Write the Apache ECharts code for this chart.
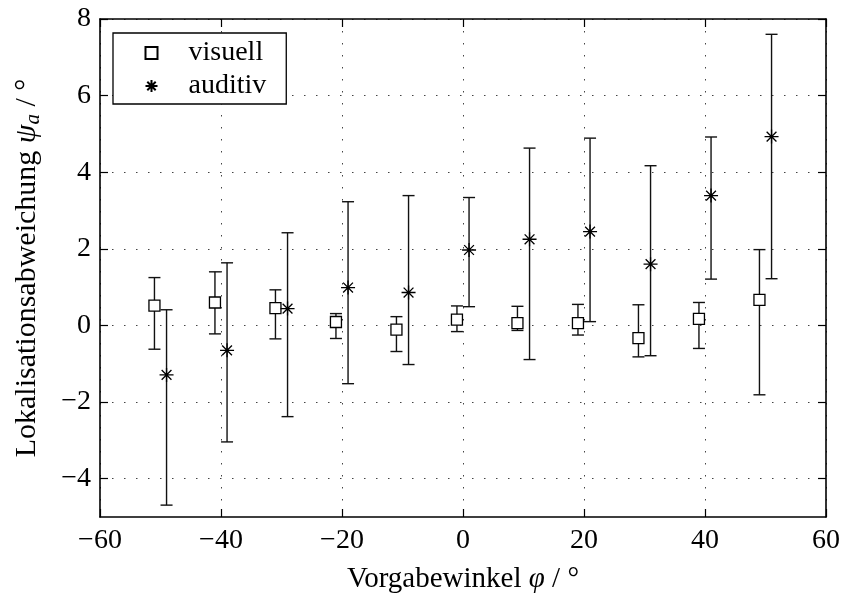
<!DOCTYPE html>
<html>
<head>
<meta charset="utf-8">
<script src="https://cdn.jsdelivr.net/npm/echarts@6/dist/echarts.min.js"></script>
<style>
html,body{margin:0;padding:0;background:#fff;}
#chart{width:843px;height:599px;}
</style>
</head>
<body>
<div id="chart"></div>
<script>
// Data
var visuellX    = [-51, -41, -31, -21, -11, -1, 9, 19, 29, 39, 49];
var visuellMean = [0.52, 0.60, 0.45, 0.09, -0.11, 0.15, 0.06, 0.06, -0.33, 0.17, 0.67];
var visuellLow  = [-0.62, -0.22, -0.35, -0.34, -0.68, -0.16, -0.13, -0.25, -0.82, -0.60, -1.81];
var visuellHigh = [1.25, 1.40, 0.93, 0.31, 0.23, 0.51, 0.50, 0.55, 0.54, 0.60, 1.98];

var auditivX    = [-49, -39, -29, -19, -9, 1, 11, 21, 31, 41, 51];
var auditivMean = [-1.29, -0.65, 0.44, 0.99, 0.86, 1.97, 2.25, 2.45, 1.60, 3.39, 4.93];
var auditivLow  = [-4.69, -3.04, -2.38, -1.52, -1.02, 0.49, -0.89, 0.10, -0.79, 1.21, 1.22];
var auditivHigh = [0.41, 1.635, 2.42, 3.23, 3.39, 3.34, 4.63, 4.89, 4.17, 4.92, 7.60];

var xTicks = [-60, -40, -20, 0, 20, 40, 60];
var yTicks = [-4, -2, 0, 2, 4, 6, 8];

var FONT = '"Liberation Serif", "DejaVu Serif", serif';
var BLACK = '#000';
var STAR = 'path://M0 5H10M5 0V10M1.5 1.5L8.5 8.5M8.5 1.5L1.5 8.5';
var SQUARE = 'path://M0 0H10V10H0Z';

function pairs(xs, ys) { return xs.map(function (x, i) { return [x, ys[i]]; }); }
function bars(xs, lo, hi) { return xs.map(function (x, i) { return [x, lo[i], hi[i]]; }); }
function fmt(v) { return String(v).replace('-', '\u2212'); }

function errorRender(params, api) {
  var x = api.value(0);
  var lo = api.coord([x, api.value(1)]);
  var hi = api.coord([x, api.value(2)]);
  var hw = 6;
  var st = { stroke: '#111', lineWidth: 1.4 };
  return {
    type: 'group',
    children: [
      { type: 'line', shape: { x1: lo[0], y1: lo[1], x2: hi[0], y2: hi[1] }, style: st },
      { type: 'line', shape: { x1: lo[0] - hw, y1: lo[1], x2: lo[0] + hw, y2: lo[1] }, style: st },
      { type: 'line', shape: { x1: hi[0] - hw, y1: hi[1], x2: hi[0] + hw, y2: hi[1] }, style: st }
    ]
  };
}

var splitStyle = { color: '#444', width: 1, type: [1.5, 10.5] };

var chart = echarts.init(document.getElementById('chart'), null, { renderer: 'canvas' });
chart.setOption({
  backgroundColor: '#fff',
  animation: false,
  grid: { left: 100, right: 15, top: 19, bottom: 81, containLabel: false },
  legend: {
    orient: 'vertical',
    left: 113, top: 33,
    padding: [6, 20, 4, 30],
    itemGap: 5,
    itemWidth: 64, itemHeight: 12,
    symbolKeepAspect: true,
    backgroundColor: '#fff',
    borderColor: BLACK, borderWidth: 1.3, borderRadius: 0,
    textStyle: { fontFamily: FONT, fontSize: 28, color: BLACK },
    data: ['visuell', 'auditiv']
  },
  xAxis: [{
    type: 'value', min: -60, max: 60, interval: 20,
    name: 'Vorgabewinkel {i|\u03c6} / \u00b0',
    nameLocation: 'middle', nameGap: 48,
    nameTextStyle: {
      fontFamily: FONT, fontSize: 29, color: BLACK,
      rich: { i: { fontFamily: FONT, fontSize: 29, fontStyle: 'italic', color: BLACK } }
    },
    axisLine: { show: true, onZero: false, lineStyle: { color: BLACK, width: 1.6 } },
    axisTick: { show: true, inside: true, length: 8, lineStyle: { color: BLACK, width: 1.2 } },
    axisLabel: { fontFamily: FONT, fontSize: 28, color: BLACK, margin: 10, formatter: fmt },
    splitLine: { show: true, lineStyle: splitStyle }
  }, {
    type: 'value', min: -60, max: 60, interval: 20, position: 'top',
    axisLine: { show: true, onZero: false, lineStyle: { color: BLACK, width: 1.6 } },
    axisTick: { show: true, inside: true, length: 8, lineStyle: { color: BLACK, width: 1.2 } },
    axisLabel: { show: false },
    splitLine: { show: false }
  }],
  yAxis: [{
    type: 'value', min: -5, max: 8,
    name: 'Lokalisationsabweichung {i|\u03c8}{s|a} / \u00b0',
    nameLocation: 'middle', nameGap: 56, nameRotate: 90,
    nameTextStyle: {
      fontFamily: FONT, fontSize: 30, color: BLACK,
      rich: {
        i: { fontFamily: FONT, fontSize: 30, fontStyle: 'italic', color: BLACK },
        s: { fontFamily: FONT, fontSize: 21, fontStyle: 'italic', color: BLACK, verticalAlign: 'bottom', padding: [12, 0, 0, 0] }
      }
    },
    axisLine: { show: true, onZero: false, lineStyle: { color: BLACK, width: 1.6 } },
    axisTick: { show: true, inside: true, length: 8, customValues: yTicks, lineStyle: { color: BLACK, width: 1.2 } },
    axisLabel: { fontFamily: FONT, fontSize: 28, color: BLACK, margin: 9, customValues: yTicks, formatter: fmt },
    splitLine: { show: true, lineStyle: splitStyle }
  }, {
    type: 'value', min: -5, max: 8, position: 'right',
    axisLine: { show: true, onZero: false, lineStyle: { color: BLACK, width: 1.6 } },
    axisTick: { show: true, inside: true, length: 8, customValues: yTicks, lineStyle: { color: BLACK, width: 1.2 } },
    axisLabel: { show: false, customValues: yTicks },
    splitLine: { show: false }
  }],
  series: [{
    name: 'visuellErr', type: 'custom', renderItem: errorRender,
    encode: { x: 0, y: [1, 2] }, data: bars(visuellX, visuellLow, visuellHigh), z: 2, silent: true
  }, {
    name: 'auditivErr', type: 'custom', renderItem: errorRender,
    encode: { x: 0, y: [1, 2] }, data: bars(auditivX, auditivLow, auditivHigh), z: 2, silent: true
  }, {
    name: 'visuell', type: 'scatter', symbol: SQUARE, symbolSize: 11,
    itemStyle: { color: '#fff', borderColor: BLACK, borderWidth: 1.3, opacity: 1 },
    data: pairs(visuellX, visuellMean), z: 5
  }, {
    name: 'auditiv', type: 'scatter', symbol: STAR, symbolSize: 14,
    itemStyle: { color: 'none', borderColor: BLACK, borderWidth: 1.3, opacity: 1 },
    data: pairs(auditivX, auditivMean), z: 5
  }]
});
</script>
</body>
</html>
